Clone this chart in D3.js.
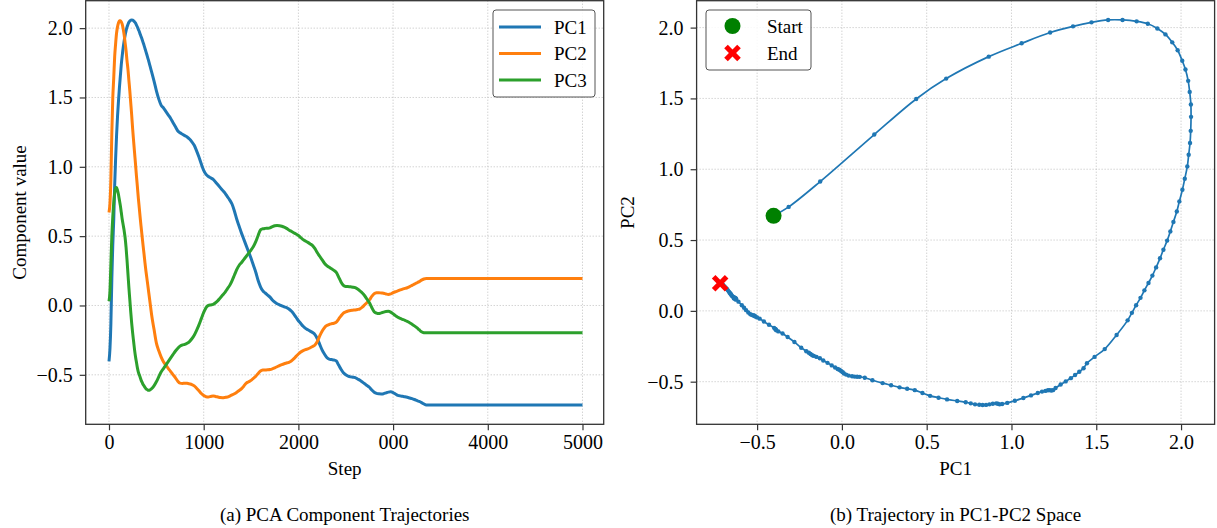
<!DOCTYPE html>
<html>
<head>
<meta charset="utf-8">
<script src="https://cdn.jsdelivr.net/npm/d3@7"></script>
<style>
body { margin: 0; background: #fff; }
text { font-family: "Liberation Serif", "Times New Roman", serif; fill: #000; }
</style>
</head>
<body>
<div id="chart"></div>
<script>
// sampled training steps (every 10 early on, then every 25)
var steps = [0,10,20,30,40,50,60,70,80,90,100,110,120,130,140,150,160,170,180,190,
	200,210,220,230,240,250,260,270,280,290,300,310,320,330,340,350,360,370,380,390,
	400,410,420,430,440,
	450,475,500,525,550,575,600,625,650,675,
	700,725,750,775,800,825,850,875,900,925,
	950,975,1000,1025,1050,1075,1100,1125,1150,1175,
	1200,1225,1250,1275,1300,1325,1350,1375,1400,1425,
	1450,1475,1500,1525,1550,1575,1600,1625,1650,1675,
	1700,1725,1750,1775,1800,1825,1850,1875,1900,1925,
	1950,1975,2000,2025,2050,2075,2100,2125,2150,2175,
	2200,2225,2250,2275,2300,2325,2350,2375,2400,2425,
	2450,2475,2500,2525,2550,2575,2600,2625,2650,2675,
	2700,2725,2750,2775,2800,2825,2850,2875,2900,2925,
	2950,2975,3000,3025,3050,3075,3100,3125,3150,3175,
	3200,3225,3250,3275,3300,3325,3350,
	4000,5000];

var pc1 = [-0.403,-0.314,-0.128,0.191,0.438,0.615,0.866,1.060,1.228,1.363,
	1.472,1.570,1.655,1.738,1.804,1.860,1.908,1.948,1.980,2.007,
	2.026,2.042,2.051,2.058,2.059,2.057,2.053,2.045,2.037,2.022,
	2.008,1.990,1.975,1.955,1.937,1.918,1.896,1.876,1.853,1.831,
	1.808,1.784,1.761,1.735,1.710,
	1.685,1.62,1.55,1.49,1.445,1.425,1.40,1.375,1.35,1.32,
	1.29,1.26,1.245,1.235,1.225,1.215,1.20,1.18,1.155,1.115,
	1.07,1.02,0.975,0.945,0.93,0.92,0.91,0.89,0.87,0.85,
	0.83,0.81,0.785,0.76,0.73,0.68,0.62,0.57,0.52,0.475,
	0.43,0.385,0.34,0.29,0.24,0.18,0.135,0.105,0.09,0.075,
	0.06,0.04,0.025,0.012,0.005,-0.003,-0.01,-0.015,-0.025,-0.04,
	-0.06,-0.085,-0.11,-0.13,-0.15,-0.165,-0.175,-0.185,-0.195,-0.21,
	-0.24,-0.28,-0.32,-0.35,-0.375,-0.387,-0.39,-0.393,-0.40,-0.43,
	-0.46,-0.485,-0.50,-0.51,-0.515,-0.517,-0.52,-0.53,-0.54,-0.552,
	-0.565,-0.577,-0.59,-0.61,-0.625,-0.634,-0.637,-0.638,-0.636,-0.63,
	-0.625,-0.623,-0.628,-0.638,-0.648,-0.652,-0.655,-0.658,-0.662,-0.667,
	-0.672,-0.678,-0.685,-0.692,-0.70,-0.71,-0.717,
	-0.718,-0.718];

var pc2 = [0.671,0.734,0.913,1.245,1.496,1.640,1.795,1.889,1.965,2.009,
	2.037,2.054,2.054,2.044,2.027,1.994,1.952,1.896,1.840,1.766,
	1.704,1.624,1.546,1.457,1.370,1.271,1.185,1.102,1.020,0.933,
	0.855,0.773,0.702,0.628,0.561,0.496,0.432,0.371,0.307,0.249,
	0.197,0.145,0.092,0.040,-0.014,
	-0.067,-0.17,-0.27,-0.325,-0.37,-0.405,-0.43,-0.453,-0.475,-0.498,
	-0.52,-0.545,-0.56,-0.562,-0.56,-0.561,-0.565,-0.57,-0.58,-0.597,
	-0.615,-0.635,-0.65,-0.658,-0.66,-0.656,-0.653,-0.656,-0.66,-0.664,
	-0.665,-0.663,-0.66,-0.653,-0.645,-0.636,-0.625,-0.613,-0.60,-0.58,
	-0.56,-0.55,-0.54,-0.525,-0.51,-0.49,-0.472,-0.466,-0.465,-0.464,
	-0.462,-0.457,-0.45,-0.442,-0.433,-0.426,-0.42,-0.415,-0.41,-0.40,
	-0.385,-0.367,-0.35,-0.335,-0.325,-0.318,-0.313,-0.305,-0.296,-0.285,
	-0.26,-0.22,-0.185,-0.16,-0.145,-0.137,-0.132,-0.128,-0.12,-0.098,
	-0.075,-0.055,-0.046,-0.04,-0.036,-0.034,-0.032,-0.029,-0.024,-0.012,
	0.005,0.022,0.04,0.065,0.085,0.091,0.092,0.09,0.088,0.083,
	0.079,0.083,0.092,0.099,0.105,0.112,0.118,0.123,0.128,0.136,
	0.145,0.154,0.163,0.172,0.183,0.191,0.195,
	0.195,0.195];

var pc3 = [0.03,0.10,0.30,0.50,0.64,0.74,0.81,0.845,0.85,0.83,
	0.80,0.76,0.72,0.67,0.62,0.58,0.54,0.49,0.42,0.33,
	0.23,0.13,0.04,-0.05,-0.13,-0.20,-0.26,-0.32,-0.37,-0.41,
	-0.45,-0.48,-0.50,-0.52,-0.54,-0.555,-0.57,-0.58,-0.59,-0.60,
	-0.605,-0.61,-0.612,-0.61,-0.605,
	-0.60,-0.58,-0.55,-0.515,-0.48,-0.455,-0.43,-0.405,-0.38,-0.355,
	-0.33,-0.31,-0.293,-0.285,-0.28,-0.272,-0.26,-0.24,-0.215,-0.18,
	-0.14,-0.095,-0.05,-0.015,0.00,0.004,0.008,0.02,0.035,0.055,
	0.075,0.095,0.12,0.145,0.18,0.22,0.26,0.29,0.31,0.333,
	0.355,0.378,0.40,0.425,0.46,0.505,0.545,0.553,0.556,0.557,
	0.56,0.568,0.575,0.577,0.575,0.571,0.565,0.556,0.545,0.535,
	0.525,0.515,0.505,0.49,0.475,0.465,0.455,0.444,0.432,0.41,
	0.38,0.355,0.33,0.305,0.288,0.275,0.265,0.253,0.238,0.205,
	0.17,0.145,0.137,0.136,0.135,0.132,0.128,0.118,0.105,0.09,
	0.07,0.045,0.02,-0.015,-0.045,-0.055,-0.058,-0.053,-0.048,-0.043,
	-0.042,-0.048,-0.06,-0.073,-0.085,-0.093,-0.10,-0.107,-0.115,-0.125,
	-0.135,-0.147,-0.16,-0.175,-0.19,-0.196,-0.197,
	-0.197,-0.197];

var seriesNames = ["PC1", "PC2", "PC3"];
var stepTicks = [0, 1000, 2000, 3000, 4000, 5000];
var stepTickLabels = ["0", "1000", "2000", "000", "4000", "5000"];
var valueTicks = [-0.5, 0, 0.5, 1, 1.5, 2];
var markerNames = ["Start", "End"];
var captions = ["(a) PCA Component Trajectories", "(b) Trajectory in PC1-PC2 Space"];

var colors = ["#1f77b4", "#ff7f0e", "#2ca02c"];
var width = 1217, height = 528;
var fontSize = 19, tickFont = 20;

var svg = d3.select("#chart")
	.append("svg")
	.attr("width", width)
	.attr("height", height);

var left = {x0: 85.7, x1: 603.7, y0: 0.7, y1: 424.3};
var right = {x0: 696.6, x1: 1214.6, y0: 0.7, y1: 424.3};

function padded(vals) {
	var e = d3.extent(vals);
	var m = (e[1] - e[0]) * 0.05;
	return [e[0] - m, e[1] + m];
}

var series = [pc1, pc2, pc3];

// ---------- panel (a) ----------
var xStep = d3.scaleLinear().domain([-246, 5224]).range([left.x0, left.x1]);
var yVal = d3.scaleLinear().domain(padded(pc1.concat(pc2, pc3))).range([left.y1, left.y0]);

// ---------- panel (b) ----------
var xPc1 = d3.scaleLinear().domain(padded(pc1)).range([right.x0, right.x1]);
var yPc2 = d3.scaleLinear().domain(padded(pc2)).range([right.y1, right.y0]);

function drawGrid(g, xs, ys, xt, yt, box) {
	g.selectAll(".gx").data(xt).enter().append("line")
		.attr("x1", function(d){ return xs(d); }).attr("x2", function(d){ return xs(d); })
		.attr("y1", box.y0).attr("y2", box.y1)
		.attr("stroke", "#b8b8b8").attr("stroke-width", 0.9).attr("stroke-dasharray", "1,2");
	g.selectAll(".gy").data(yt).enter().append("line")
		.attr("y1", function(d){ return ys(d); }).attr("y2", function(d){ return ys(d); })
		.attr("x1", box.x0).attr("x2", box.x1)
		.attr("stroke", "#b8b8b8").attr("stroke-width", 0.9).attr("stroke-dasharray", "1,2");
}

function drawAxes(xAxis, yAxis, box) {
	var gx = svg.append("g")
		.attr("transform", "translate(0," + box.y1 + ")")
		.call(xAxis);
	var gy = svg.append("g")
		.attr("transform", "translate(" + box.x0 + ",0)")
		.call(yAxis);
	[gx, gy].forEach(function(g){
		g.select(".domain").remove();
		g.selectAll("line").attr("stroke", "#333").attr("stroke-width", 1.2);
		g.selectAll("text").style("font-size", tickFont + "px")
			.style("font-family", "'Liberation Serif', serif").attr("fill", "#000");
	});
	svg.append("rect")
		.attr("x", box.x0).attr("y", box.y0)
		.attr("width", box.x1 - box.x0).attr("height", box.y1 - box.y0)
		.attr("fill", "none").attr("stroke", "#333").attr("stroke-width", 1.3);
}

var fmt = d3.format(".1f");

// panel (a) grid + lines
var gA = svg.append("g");
drawGrid(gA, xStep, yVal, stepTicks, valueTicks, left);

var lineA = d3.line()
	.x(function(d){ return xStep(d[0]); })
	.y(function(d){ return yVal(d[1]); })
	.curve(d3.curveMonotoneX);

series.forEach(function(vals, k){
	gA.append("path")
		.datum(steps.map(function(s, i){ return [s, vals[i]]; }))
		.attr("fill", "none")
		.attr("stroke", colors[k])
		.attr("stroke-width", 3)
		.attr("stroke-linejoin", "round")
		.attr("d", lineA);
});

drawAxes(
	d3.axisBottom(xStep).tickValues(stepTicks).tickSizeInner(6).tickSizeOuter(0).tickPadding(5)
		.tickFormat(function(d, i){ return stepTickLabels[i]; }),
	d3.axisLeft(yVal).tickValues(valueTicks).tickSizeInner(6).tickSizeOuter(0).tickPadding(7)
		.tickFormat(fmt),
	left);

// legend (a)
var legA = svg.append("g");
legA.append("rect")
	.attr("x", 493).attr("y", 10).attr("width", 102).attr("height", 87)
	.attr("rx", 3).attr("fill", "#fff").attr("fill-opacity", 0.85)
	.attr("stroke", "#555").attr("stroke-width", 1);
seriesNames.forEach(function(name, k){
	var cy = 27 + k * 26.5;
	legA.append("line")
		.attr("x1", 499).attr("x2", 541).attr("y1", cy).attr("y2", cy)
		.attr("stroke", colors[k]).attr("stroke-width", 3);
	legA.append("text")
		.attr("x", 554).attr("y", cy + 6.5)
		.style("font-size", fontSize + "px")
		.text(name);
});

// panel (b) grid + trajectory
var gB = svg.append("g");
drawGrid(gB, xPc1, yPc2, valueTicks, valueTicks, right);

var traj = steps.map(function(s, i){ return [pc1[i], pc2[i]]; });

var lineB = d3.line()
	.x(function(d){ return xPc1(d[0]); })
	.y(function(d){ return yPc2(d[1]); })
	.curve(d3.curveCatmullRom.alpha(0.5));

gB.append("path")
	.datum(traj)
	.attr("fill", "none")
	.attr("stroke", colors[0])
	.attr("stroke-width", 1.7)
	.attr("d", lineB);

gB.selectAll(".dot")
	.data(traj)
	.enter()
	.append("circle")
	.attr("cx", function(d){ return xPc1(d[0]); })
	.attr("cy", function(d){ return yPc2(d[1]); })
	.attr("r", 2.2)
	.attr("fill", colors[0]);

function xMarker(cx, cy, s, w) {
	// filled "X" marker, half size s, arm half width w
	var pts = [[0, w], [s - w, s], [s, s - w], [w, 0], [s, -(s - w)], [s - w, -s],
		[0, -w], [-(s - w), -s], [-s, -(s - w)], [-w, 0], [-s, s - w], [-(s - w), s]];
	return "M" + pts.map(function(p){ return (cx + p[0]) + "," + (cy + p[1]); }).join("L") + "Z";
}

var first = traj[0], last = traj[traj.length - 1];
svg.append("circle")
	.attr("cx", xPc1(first[0])).attr("cy", yPc2(first[1]))
	.attr("r", 8).attr("fill", "green");
svg.append("path")
	.attr("d", xMarker(xPc1(last[0]), yPc2(last[1]), 8.3, 3.6))
	.attr("fill", "red");

drawAxes(
	d3.axisBottom(xPc1).tickValues(valueTicks).tickSizeInner(6).tickSizeOuter(0).tickPadding(5)
		.tickFormat(fmt),
	d3.axisLeft(yPc2).tickValues(valueTicks).tickSizeInner(6).tickSizeOuter(0).tickPadding(7)
		.tickFormat(fmt),
	right);

// legend (b)
var legB = svg.append("g");
legB.append("rect")
	.attr("x", 706).attr("y", 10).attr("width", 105).attr("height", 60)
	.attr("rx", 3).attr("fill", "#fff").attr("fill-opacity", 0.85)
	.attr("stroke", "#555").attr("stroke-width", 1);
legB.append("circle").attr("cx", 732.5).attr("cy", 26).attr("r", 8).attr("fill", "green");
legB.append("path").attr("d", xMarker(732.5, 53, 8.3, 3.6)).attr("fill", "red");
markerNames.forEach(function(name, k){
	legB.append("text")
		.attr("x", 767).attr("y", 26 + k * 27 + 6.5)
		.style("font-size", fontSize + "px")
		.text(name);
});

// axis labels
svg.append("text")
	.attr("transform", "translate(25.5," + ((left.y0 + left.y1) / 2) + ") rotate(-90)")
	.attr("text-anchor", "middle").style("font-size", fontSize + "px")
	.text("Component value");
svg.append("text")
	.attr("x", (left.x0 + left.x1) / 2).attr("y", 475)
	.attr("text-anchor", "middle").style("font-size", fontSize + "px")
	.text("Step");
svg.append("text")
	.attr("transform", "translate(634," + ((right.y0 + right.y1) / 2) + ") rotate(-90)")
	.attr("text-anchor", "middle").style("font-size", fontSize + "px")
	.text("PC2");
svg.append("text")
	.attr("x", (right.x0 + right.x1) / 2).attr("y", 475)
	.attr("text-anchor", "middle").style("font-size", fontSize + "px")
	.text("PC1");

// captions
svg.append("text")
	.attr("x", (left.x0 + left.x1) / 2).attr("y", 521)
	.attr("text-anchor", "middle").style("font-size", fontSize + "px")
	.text(captions[0]);
svg.append("text")
	.attr("x", (right.x0 + right.x1) / 2).attr("y", 521)
	.attr("text-anchor", "middle").style("font-size", fontSize + "px")
	.text(captions[1]);
</script>
</body>
</html>
